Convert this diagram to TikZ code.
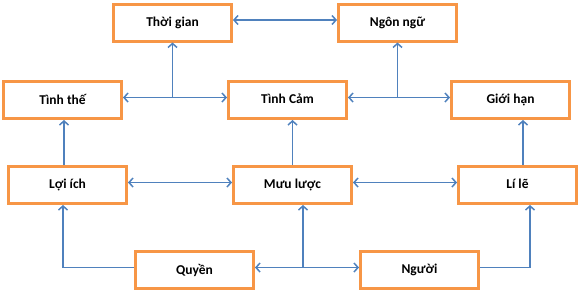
\documentclass[tikz,border=0pt]{standalone}
\usepackage{fontspec}
\setmainfont{Carlito}
\usetikzlibrary{arrows.meta}
\definecolor{boxorange}{HTML}{F79646}
\definecolor{lineblue}{HTML}{4F81BD}
\tikzset{
  box/.style={draw=boxorange, line width=3pt, fill=white, minimum width=118pt, minimum height=37pt,
    inner sep=0pt, font=\fontsize{13.5}{15}\selectfont\bfseries, text depth=0pt},
  arr/.style={draw=lineblue, line width=1.5pt, >={Straight Barb[length=4pt,width=9pt]}}
}
\begin{document}
\begin{tikzpicture}[x=1pt,y=-1pt]
\useasboundingbox (0,0) rectangle (580,292);
\node[box] (tg) at (172.5,22.5) {\raisebox{2pt}{Thời gian}};
\node[box] (nn) at (397.5,22.5) {\raisebox{2pt}{Ngôn ngữ}};
\node[box] (tt) at (62.5,100) {\raisebox{2pt}{Tình thế}};
\node[box] (tc) at (287.5,100) {\raisebox{2pt}{Tình Cảm}};
\node[box] (gh) at (510.5,100) {\raisebox{2pt}{Giới hạn}};
\node[box] (li) at (67.5,185) {\raisebox{2pt}{Lợi ích}};
\node[box] (ml) at (292.5,185) {\raisebox{2pt}{Mưu lược}};
\node[box] (ll) at (517.5,185) {\raisebox{2pt}{Lí lẽ}};
\node[box] (qu) at (194.5,270) {\raisebox{2pt}{Quyền}};
\node[box] (ng) at (419.5,270) {\raisebox{2pt}{Người}};
% top row
\draw[arr,<->] ([yshift=2.5pt]tg.east) -- ([yshift=2.5pt]nn.west);
% second row
\draw[arr,<->] ([yshift=2.5pt]tt.east) coordinate (a1) -- ([yshift=2.5pt]tc.west);
\draw[arr,->] (tg.south |- a1) -- (tg.south);
\draw[arr,<->] ([yshift=2.5pt]tc.east) coordinate (a2) -- ([yshift=2.5pt]gh.west);
\draw[arr,->] (nn.south |- a2) -- (nn.south);
% verticals to second row
\path ([xshift=-3.5pt]li.north) coordinate (b1);
\draw[arr,->] (b1) -- (b1 |- tt.south);
\draw[arr,->] (ml.north) -- (ml.north |- tc.south);
\path ([xshift=5.5pt]ll.north) coordinate (b3);
\draw[arr,->] (b3) -- (b3 |- gh.south);
% third row
\draw[arr,<->] ([yshift=2.5pt]li.east) -- ([yshift=2.5pt]ml.west);
\draw[arr,<->] ([yshift=2.5pt]ml.east) -- ([yshift=2.5pt]ll.west);
% bottom row
\draw[arr,->] ([yshift=2.5pt]qu.west) -| ([xshift=-4.5pt]li.south);
\draw[arr,<->] ([yshift=2.5pt]qu.east) coordinate (a3) -- ([yshift=2.5pt]ng.west);
\path ([xshift=10.5pt]ml.south) coordinate (c3);
\draw[arr,->] (c3 |- a3) -- (c3);
\draw[arr,->] ([yshift=2.5pt]ng.east) -| ([xshift=12.5pt]ll.south);
\end{tikzpicture}
\end{document}
